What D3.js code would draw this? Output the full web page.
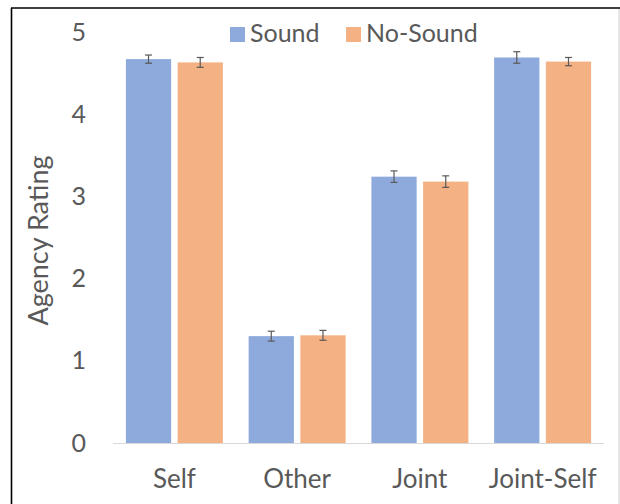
<!DOCTYPE html>
<html>
<head>
<meta charset="utf-8">
<script src="https://cdn.jsdelivr.net/npm/d3@7"></script>
<style>
  html, body { margin: 0; padding: 0; background: #fff; }
  svg { display: block; }
  text { font-family: Lato, "Open Sans", sans-serif; fill: #595959; }
</style>
</head>
<body>
<svg id="chart" width="620" height="504"></svg>
<script>
// Agency ratings by condition, with and without sound feedback
const categories = ["Self", "Other", "Joint", "Joint-Self"];
const seriesNames = ["Sound", "No-Sound"];
const soundValues = [4.67, 1.30, 3.24, 4.69];
const noSoundValues = [4.63, 1.31, 3.18, 4.64];
const soundErrors = [0.05, 0.06, 0.07, 0.07];
const noSoundErrors = [0.06, 0.06, 0.07, 0.05];
const yTicks = [0, 1, 2, 3, 4, 5];
const colors = ["#8EA9DB", "#F4B183"];

const svg = d3.select("#chart");

// outer frame: dark top and left edges, light right edge
svg.append("line").attr("x1", 11).attr("x2", 620).attr("y1", 8).attr("y2", 8)
  .attr("stroke", "#000").attr("stroke-width", 1.6);
svg.append("line").attr("x1", 11.5).attr("x2", 11.5).attr("y1", 8).attr("y2", 504)
  .attr("stroke", "#000").attr("stroke-width", 1.6);
svg.append("line").attr("x1", 619).attr("x2", 619).attr("y1", 9).attr("y2", 504)
  .attr("stroke", "#D0D0D0").attr("stroke-width", 1);

const plot = { left: 113, right: 604, top: 32, bottom: 443 };

const x0 = d3.scaleBand().domain(categories)
  .range([plot.left, plot.right]).paddingInner(0.21).paddingOuter(0.105);
const x1 = d3.scaleBand().domain(seriesNames)
  .range([0, x0.bandwidth()]).paddingInner(0.125);
const y = d3.scaleLinear().domain([0, 5]).range([plot.bottom, plot.top]);

const rows = categories.map((c, i) => ({
  cat: c,
  vals: [
    { s: "Sound", v: soundValues[i], e: soundErrors[i], c: colors[0] },
    { s: "No-Sound", v: noSoundValues[i], e: noSoundErrors[i], c: colors[1] }
  ]
}));

// y axis labels (no line, no ticks)
const yAxis = svg.append("g")
  .attr("transform", `translate(${plot.left},0)`)
  .call(d3.axisLeft(y).tickValues(yTicks).tickFormat(d3.format("d")).tickSize(0).tickPadding(27));
yAxis.select(".domain").remove();
yAxis.selectAll("text").style("font-size", "25px").attr("fill", "#595959");

// bars
const groups = svg.append("g").selectAll("g").data(rows).join("g")
  .attr("transform", d => `translate(${x0(d.cat)},0)`);

groups.selectAll("rect").data(d => d.vals).join("rect")
  .attr("x", d => x1(d.s))
  .attr("width", x1.bandwidth())
  .attr("y", d => y(d.v))
  .attr("height", d => y(0) - y(d.v))
  .attr("fill", d => d.c);

// error bars
const eb = groups.selectAll("g.err").data(d => d.vals).join("g").attr("class", "err")
  .attr("transform", d => `translate(${x1(d.s) + x1.bandwidth() / 2},0)`);
eb.append("line").attr("x1", 0).attr("x2", 0)
  .attr("y1", d => y(d.v + d.e)).attr("y2", d => y(d.v - d.e));
eb.append("line").attr("x1", -3.5).attr("x2", 3.5)
  .attr("y1", d => y(d.v + d.e)).attr("y2", d => y(d.v + d.e));
eb.append("line").attr("x1", -3.5).attr("x2", 3.5)
  .attr("y1", d => y(d.v - d.e)).attr("y2", d => y(d.v - d.e));
eb.selectAll("line").attr("stroke", "#595959").attr("stroke-width", 1.2);

// baseline
svg.append("line")
  .attr("x1", plot.left).attr("x2", plot.right)
  .attr("y1", y(0) + 0.5).attr("y2", y(0) + 0.5)
  .attr("stroke", "#D9D9D9").attr("stroke-width", 1);

// x axis labels
const xAxis = svg.append("g")
  .attr("transform", `translate(0,${plot.bottom})`)
  .call(d3.axisBottom(x0).tickSize(0).tickPadding(27));
xAxis.select(".domain").remove();
xAxis.selectAll("text").style("font-size", "26px").attr("fill", "#595959");

// y axis title
svg.append("text")
  .attr("transform", `translate(48,${(plot.top + plot.bottom) / 2 + 3}) rotate(-90)`)
  .attr("text-anchor", "middle")
  .style("font-size", "27px")
  .text("Agency Rating");

// legend
const legendX = [230, 346];
const legend = svg.append("g").attr("transform", "translate(0,27)");
const li = legend.selectAll("g").data(seriesNames).join("g")
  .attr("transform", (d, i) => `translate(${legendX[i]},0)`);
li.append("rect").attr("width", 15).attr("height", 15)
  .attr("fill", (d, i) => colors[i]);
li.append("text").attr("x", 20).attr("y", 15)
  .style("font-size", "25px").text(d => d);
</script>
</body>
</html>
